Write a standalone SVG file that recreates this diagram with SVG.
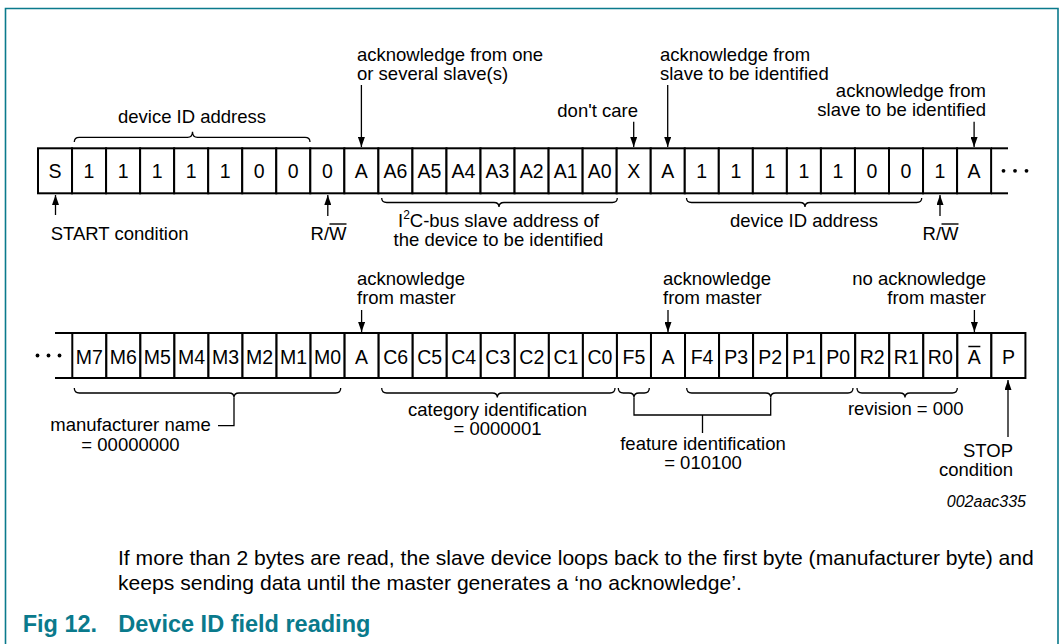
<svg xmlns="http://www.w3.org/2000/svg" width="1061" height="644" viewBox="0 0 1061 644">
<style>
text{font-family:"Liberation Sans",Arial,sans-serif;fill:#000}
.c rect{fill:#fff;stroke:#000;stroke-width:2}
.c text{font-size:19.5px;text-anchor:middle}
.lb{font-size:18.5px}
.m{text-anchor:middle}
.e{text-anchor:end}
.ar{stroke:#000;stroke-width:1.3;fill:none;marker-end:url(#ah)}
.br{stroke:#000;stroke-width:1.3;fill:none}
.rl{stroke:#000;stroke-width:2}
.cap{font-size:21.1px}
.fig{font-size:23.5px;font-weight:bold;fill:#0a7a8c}
</style>
<defs>
<marker id="ah" markerUnits="userSpaceOnUse" markerWidth="10" markerHeight="7" refX="10" refY="3.5" orient="auto"><path d="M0,0 L10,3.5 L0,7 z" fill="#000"/></marker>
</defs>
<path d="M5.5,644 V8.5 H1058 V644" fill="none" stroke="#0a7a8c" stroke-width="1.6"/>

<g id="row1">
<g id="t0" class="c" transform="translate(38,148.3)"><rect width="34.04" height="45"/><text x="17.02" y="30.2">S</text></g>
<g id="t1" class="c" transform="translate(72.04,148.3)"><rect width="34.04" height="45"/><text x="17.02" y="30.2">1</text></g>
<g id="t2" class="c" transform="translate(106.08,148.3)"><rect width="34.04" height="45"/><text x="17.02" y="30.2">1</text></g>
<g id="t3" class="c" transform="translate(140.12,148.3)"><rect width="34.04" height="45"/><text x="17.02" y="30.2">1</text></g>
<g id="t4" class="c" transform="translate(174.16,148.3)"><rect width="34.04" height="45"/><text x="17.02" y="30.2">1</text></g>
<g id="t5" class="c" transform="translate(208.2,148.3)"><rect width="34.04" height="45"/><text x="17.02" y="30.2">1</text></g>
<g id="t6" class="c" transform="translate(242.24,148.3)"><rect width="34.04" height="45"/><text x="17.02" y="30.2">0</text></g>
<g id="t7" class="c" transform="translate(276.28,148.3)"><rect width="34.04" height="45"/><text x="17.02" y="30.2">0</text></g>
<g id="t8" class="c" transform="translate(310.32,148.3)"><rect width="34.04" height="45"/><text x="17.02" y="30.2">0</text></g>
<g id="t9" class="c" transform="translate(344.36,148.3)"><rect width="34.04" height="45"/><text x="17.02" y="30.2">A</text></g>
<g id="t10" class="c" transform="translate(378.4,148.3)"><rect width="34.04" height="45"/><text x="17.02" y="30.2">A6</text></g>
<g id="t11" class="c" transform="translate(412.44,148.3)"><rect width="34.04" height="45"/><text x="17.02" y="30.2">A5</text></g>
<g id="t12" class="c" transform="translate(446.48,148.3)"><rect width="34.04" height="45"/><text x="17.02" y="30.2">A4</text></g>
<g id="t13" class="c" transform="translate(480.52,148.3)"><rect width="34.04" height="45"/><text x="17.02" y="30.2">A3</text></g>
<g id="t14" class="c" transform="translate(514.56,148.3)"><rect width="34.04" height="45"/><text x="17.02" y="30.2">A2</text></g>
<g id="t15" class="c" transform="translate(548.6,148.3)"><rect width="34.04" height="45"/><text x="17.02" y="30.2">A1</text></g>
<g id="t16" class="c" transform="translate(582.64,148.3)"><rect width="34.04" height="45"/><text x="17.02" y="30.2">A0</text></g>
<g id="t17" class="c" transform="translate(616.68,148.3)"><rect width="34.04" height="45"/><text x="17.02" y="30.2">X</text></g>
<g id="t18" class="c" transform="translate(650.72,148.3)"><rect width="34.04" height="45"/><text x="17.02" y="30.2">A</text></g>
<g id="t19" class="c" transform="translate(684.76,148.3)"><rect width="34.04" height="45"/><text x="17.02" y="30.2">1</text></g>
<g id="t20" class="c" transform="translate(718.8,148.3)"><rect width="34.04" height="45"/><text x="17.02" y="30.2">1</text></g>
<g id="t21" class="c" transform="translate(752.84,148.3)"><rect width="34.04" height="45"/><text x="17.02" y="30.2">1</text></g>
<g id="t22" class="c" transform="translate(786.88,148.3)"><rect width="34.04" height="45"/><text x="17.02" y="30.2">1</text></g>
<g id="t23" class="c" transform="translate(820.92,148.3)"><rect width="34.04" height="45"/><text x="17.02" y="30.2">1</text></g>
<g id="t24" class="c" transform="translate(854.96,148.3)"><rect width="34.04" height="45"/><text x="17.02" y="30.2">0</text></g>
<g id="t25" class="c" transform="translate(889,148.3)"><rect width="34.04" height="45"/><text x="17.02" y="30.2">0</text></g>
<g id="t26" class="c" transform="translate(923.04,148.3)"><rect width="34.04" height="45"/><text x="17.02" y="30.2">1</text></g>
<g id="t27" class="c" transform="translate(957.08,148.3)"><rect width="34.04" height="45"/><text x="17.02" y="30.2">A</text></g>
<g id="t-cont">
<line class="rl" x1="991" y1="148.3" x2="1008" y2="148.3"/><line class="rl" x1="991" y1="193.3" x2="1008" y2="193.3"/>
<circle cx="1003.5" cy="170.8" r="1.9"/><circle cx="1015" cy="170.8" r="1.9"/><circle cx="1026.5" cy="170.8" r="1.9"/>
</g>
</g>

<g id="row2">
<g id="b-cont">
<line class="rl" x1="55" y1="333" x2="73" y2="333"/><line class="rl" x1="55" y1="378" x2="73" y2="378"/>
<circle cx="37.5" cy="355.5" r="1.9"/><circle cx="48.5" cy="355.5" r="1.9"/><circle cx="59.5" cy="355.5" r="1.9"/>
</g>
<g id="b0" class="c" transform="translate(72.3,333)"><rect width="34.04" height="45"/><text x="17.02" y="30.5">M7</text></g>
<g id="b1" class="c" transform="translate(106.34,333)"><rect width="34.04" height="45"/><text x="17.02" y="30.5">M6</text></g>
<g id="b2" class="c" transform="translate(140.38,333)"><rect width="34.04" height="45"/><text x="17.02" y="30.5">M5</text></g>
<g id="b3" class="c" transform="translate(174.42,333)"><rect width="34.04" height="45"/><text x="17.02" y="30.5">M4</text></g>
<g id="b4" class="c" transform="translate(208.46,333)"><rect width="34.04" height="45"/><text x="17.02" y="30.5">M3</text></g>
<g id="b5" class="c" transform="translate(242.5,333)"><rect width="34.04" height="45"/><text x="17.02" y="30.5">M2</text></g>
<g id="b6" class="c" transform="translate(276.54,333)"><rect width="34.04" height="45"/><text x="17.02" y="30.5">M1</text></g>
<g id="b7" class="c" transform="translate(310.58,333)"><rect width="34.04" height="45"/><text x="17.02" y="30.5">M0</text></g>
<g id="b8" class="c" transform="translate(344.62,333)"><rect width="34.04" height="45"/><text x="17.02" y="30.5">A</text></g>
<g id="b9" class="c" transform="translate(378.66,333)"><rect width="34.04" height="45"/><text x="17.02" y="30.5">C6</text></g>
<g id="b10" class="c" transform="translate(412.7,333)"><rect width="34.04" height="45"/><text x="17.02" y="30.5">C5</text></g>
<g id="b11" class="c" transform="translate(446.74,333)"><rect width="34.04" height="45"/><text x="17.02" y="30.5">C4</text></g>
<g id="b12" class="c" transform="translate(480.78,333)"><rect width="34.04" height="45"/><text x="17.02" y="30.5">C3</text></g>
<g id="b13" class="c" transform="translate(514.82,333)"><rect width="34.04" height="45"/><text x="17.02" y="30.5">C2</text></g>
<g id="b14" class="c" transform="translate(548.86,333)"><rect width="34.04" height="45"/><text x="17.02" y="30.5">C1</text></g>
<g id="b15" class="c" transform="translate(582.9,333)"><rect width="34.04" height="45"/><text x="17.02" y="30.5">C0</text></g>
<g id="b16" class="c" transform="translate(616.94,333)"><rect width="34.04" height="45"/><text x="17.02" y="30.5">F5</text></g>
<g id="b17" class="c" transform="translate(650.98,333)"><rect width="34.04" height="45"/><text x="17.02" y="30.5">A</text></g>
<g id="b18" class="c" transform="translate(685.02,333)"><rect width="34.04" height="45"/><text x="17.02" y="30.5">F4</text></g>
<g id="b19" class="c" transform="translate(719.06,333)"><rect width="34.04" height="45"/><text x="17.02" y="30.5">P3</text></g>
<g id="b20" class="c" transform="translate(753.1,333)"><rect width="34.04" height="45"/><text x="17.02" y="30.5">P2</text></g>
<g id="b21" class="c" transform="translate(787.14,333)"><rect width="34.04" height="45"/><text x="17.02" y="30.5">P1</text></g>
<g id="b22" class="c" transform="translate(821.18,333)"><rect width="34.04" height="45"/><text x="17.02" y="30.5">P0</text></g>
<g id="b23" class="c" transform="translate(855.22,333)"><rect width="34.04" height="45"/><text x="17.02" y="30.5">R2</text></g>
<g id="b24" class="c" transform="translate(889.26,333)"><rect width="34.04" height="45"/><text x="17.02" y="30.5">R1</text></g>
<g id="b25" class="c" transform="translate(923.3,333)"><rect width="34.04" height="45"/><text x="17.02" y="30.5">R0</text></g>
<g id="b26" class="c" transform="translate(957.34,333)"><rect width="34.04" height="45"/><text x="17.02" y="30.5">A</text><line x1="11" y1="13.5" x2="23" y2="13.5" stroke="#000" stroke-width="1.5"/></g>
<g id="b27" class="c" transform="translate(991.38,333)"><rect width="34.04" height="45"/><text x="17.02" y="30.5">P</text></g>
</g>

<g id="connectors">
<path class="ar" d="M361.4,85 V147"/>
<path class="ar" d="M633.7,121.7 V147"/>
<path class="ar" d="M667.7,85 V147"/>
<path class="ar" d="M974.1,121.7 V147"/>
<path class="ar" d="M55.5,215 V195"/>
<path class="ar" d="M327.8,216 V195"/>
<path class="ar" d="M940,216 V195"/>
<path class="ar" d="M361.6,310 V332"/>
<path class="ar" d="M668,310 V332"/>
<path class="ar" d="M974.4,310 V332"/>
<path class="ar" d="M1008,437 V380"/>
<path class="br" d="M74.3,142 Q74.3,137.3 79.3,137.3 H187.5 Q192.5,137.3 192.5,131.7 Q192.5,137.3 197.5,137.3 H305 Q310,137.3 310,142"/>
<path class="br" d="M381.7,198 Q381.7,202.5 386.7,202.5 H494 Q499,202.5 499,207 Q499,202.5 504,202.5 H612.3 Q617.3,202.5 617.3,198"/>
<path class="br" d="M686.5,198 Q686.5,202.5 691.5,202.5 H800 Q805,202.5 805,207 Q805,202.5 810,202.5 H916.7 Q921.7,202.5 921.7,198"/>
<path class="br" d="M74.3,388 Q74.3,393 79.3,393 H229 Q234,393 234,397.5 Q234,393 239,393 H335.7 Q340.7,393 340.7,388"/>
<path class="br" d="M381.7,388 Q381.7,393 386.7,393 H492.3 Q497.3,393 497.3,397.5 Q497.3,393 502.3,393 H610 Q615,393 615,388"/>
<path class="br" d="M618.3,388 Q618.3,393 623.3,393 H629 Q634,393 634,397.5 Q634,393 639,393 H644.3 Q649.3,393 649.3,388"/>
<path class="br" d="M686.7,388 Q686.7,393 691.7,393 H765.7 Q770.7,393 770.7,397.5 Q770.7,393 775.7,393 H848 Q853,393 853,388"/>
<path class="br" d="M857,388 Q857,393 862,393 H900 Q905,393 905,397.5 Q905,393 910,393 H952.3 Q957.3,393 957.3,388"/>
<path class="br" d="M234,397.5 V425.7 H218"/>
<path class="br" d="M634,397.5 V415 H770.7 V397.5 M702.5,415 V433"/>
<line x1="329.5" y1="224" x2="346.5" y2="224" stroke="#000" stroke-width="1.4"/>
<line x1="941.5" y1="224" x2="958.5" y2="224" stroke="#000" stroke-width="1.4"/>
</g>

<g id="labels" class="lb">
<text x="357" y="61">acknowledge from one</text>
<text x="357" y="80">or several slave(s)</text>
<text x="660" y="61">acknowledge from</text>
<text x="660" y="80">slave to be identified</text>
<text class="e" x="986" y="97">acknowledge from</text>
<text class="e" x="986" y="116">slave to be identified</text>
<text class="e" x="638" y="116.7">don't care</text>
<text class="m" x="192" y="123.3">device ID address</text>
<text x="50.7" y="240">START condition</text>
<text class="m" x="328.5" y="240">R/W</text>
<text class="m" x="940.5" y="240">R/W</text>
<text class="m" x="498.5" y="226.5">I<tspan font-size="12" dy="-7.5">2</tspan><tspan dy="7.5">C-bus slave address of</tspan></text>
<text class="m" x="498.5" y="246">the device to be identified</text>
<text class="m" x="804" y="226.7">device ID address</text>
<text x="357" y="284.5">acknowledge</text>
<text x="357" y="303.5">from master</text>
<text x="663" y="284.5">acknowledge</text>
<text x="663" y="303.5">from master</text>
<text class="e" x="986" y="284.5">no acknowledge</text>
<text class="e" x="986" y="303.5">from master</text>
<text class="m" x="130.5" y="430.7">manufacturer name</text>
<text class="m" x="130.5" y="450.7">= 00000000</text>
<text class="m" x="497.5" y="416">category identification</text>
<text class="m" x="497.5" y="435">= 0000001</text>
<text class="m" x="703" y="450">feature identification</text>
<text class="m" x="703" y="469">= 010100</text>
<text class="m" x="905.8" y="414.5">revision = 000</text>
<text class="e" x="1013" y="456.5">STOP</text>
<text class="e" x="1013" y="475.5">condition</text>
<text class="e" x="1026" y="507" font-size="16" font-style="italic">002aac335</text>
</g>

<g id="caption">
<text class="cap" x="118" y="565">If more than 2 bytes are read, the slave device loops back to the first byte (manufacturer byte) and</text>
<text class="cap" x="118" y="590">keeps sending data until the master generates a ‘no acknowledge’.</text>
<text class="fig" x="22.7" y="631.7">Fig 12.</text>
<text class="fig" x="118.3" y="631.7">Device ID field reading</text>
</g>
</svg>
